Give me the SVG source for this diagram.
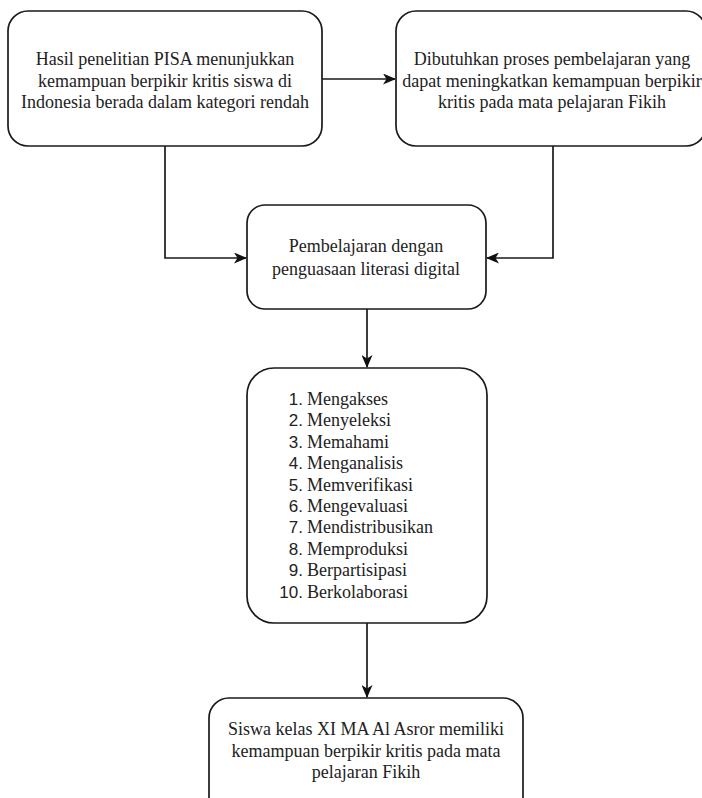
<svg xmlns="http://www.w3.org/2000/svg" width="702" height="798" viewBox="0 0 702 798">
<style>
.box{fill:#fff;stroke:#1a1a1a;stroke-width:1.7}
.t{font-family:"Liberation Serif",serif;font-size:18px;fill:#222;text-anchor:middle}
.n{font-family:"Liberation Sans",sans-serif;font-size:17px;fill:#222;text-anchor:end}
.w{font-family:"Liberation Serif",serif;font-size:18px;fill:#222}
.c{fill:none;stroke:#1a1a1a;stroke-width:1.7}
</style>
<defs>
<marker id="arr" viewBox="0 0 13 11" refX="12" refY="5.5" markerWidth="13" markerHeight="11" markerUnits="userSpaceOnUse" orient="auto">
<path d="M0,0 L13,5.5 L0,11 L3.5,5.5 z" fill="#111"/>
</marker>
</defs>
<rect width="702" height="798" fill="#fff"/>
<g id="connectors">
<path class="c" d="M322,79 H395" marker-end="url(#arr)"/>
<path class="c" d="M165,146 V258 H246" marker-end="url(#arr)"/>
<path class="c" d="M553,146 V258 H487" marker-end="url(#arr)"/>
<path class="c" d="M367,309 V367" marker-end="url(#arr)"/>
<path class="c" d="M367,623 V697" marker-end="url(#arr)"/>
</g>
<g id="node1">
<rect class="box" x="8" y="11" width="314" height="135" rx="20"/>
<text class="t" x="165" y="65">Hasil penelitian PISA menunjukkan</text>
<text class="t" x="165" y="87">kemampuan berpikir kritis siswa di</text>
<text class="t" x="165" y="108">Indonesia berada dalam kategori rendah</text>
</g>
<g id="node2">
<rect class="box" x="396" y="11" width="310" height="135" rx="20"/>
<text class="t" x="552" y="65">Dibutuhkan proses pembelajaran yang</text>
<text class="t" x="552" y="87">dapat meningkatkan kemampuan berpikir</text>
<text class="t" x="552" y="108">kritis pada mata pelajaran Fikih</text>
</g>
<g id="node3">
<rect class="box" x="247" y="205" width="239" height="104" rx="18"/>
<text class="t" x="366" y="252">Pembelajaran dengan</text>
<text class="t" x="366" y="275">penguasaan literasi digital</text>
</g>
<g id="node4">
<rect class="box" x="247" y="368" width="240" height="255" rx="27"/>
<text class="n" x="303" y="405">1.</text><text class="w" x="307" y="405">Mengakses</text>
<text class="n" x="303" y="426.4">2.</text><text class="w" x="307" y="426.4">Menyeleksi</text>
<text class="n" x="303" y="447.8">3.</text><text class="w" x="307" y="447.8">Memahami</text>
<text class="n" x="303" y="469.2">4.</text><text class="w" x="307" y="469.2">Menganalisis</text>
<text class="n" x="303" y="490.6">5.</text><text class="w" x="307" y="490.6">Memverifikasi</text>
<text class="n" x="303" y="512">6.</text><text class="w" x="307" y="512">Mengevaluasi</text>
<text class="n" x="303" y="533.4">7.</text><text class="w" x="307" y="533.4">Mendistribusikan</text>
<text class="n" x="303" y="554.8">8.</text><text class="w" x="307" y="554.8">Memproduksi</text>
<text class="n" x="303" y="576.2">9.</text><text class="w" x="307" y="576.2">Berpartisipasi</text>
<text class="n" x="303" y="597.6">10.</text><text class="w" x="307" y="597.6">Berkolaborasi</text>
</g>
<g id="node5">
<rect class="box" x="209" y="698" width="314" height="120" rx="20"/>
<text class="t" x="366" y="735">Siswa kelas XI MA Al Asror memiliki</text>
<text class="t" x="366" y="756.5">kemampuan berpikir kritis pada mata</text>
<text class="t" x="366" y="777.5">pelajaran Fikih</text>
</g>
</svg>
